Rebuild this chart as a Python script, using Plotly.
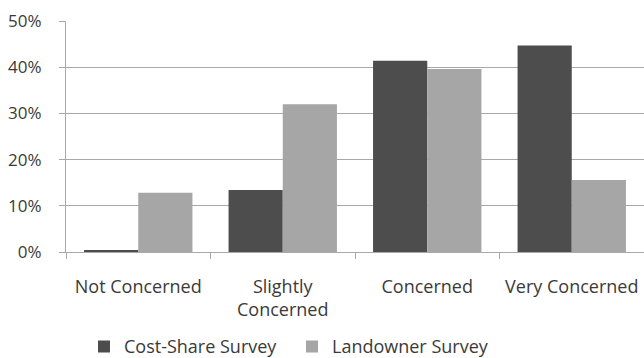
import plotly.graph_objects as go

categories = ["Not Concerned", "Slightly<br>Concerned", "Concerned", "Very Concerned"]
cost_share = [0.4, 13.4, 41.4, 44.7]
landowner = [12.8, 32.0, 39.6, 15.6]
y_ticks = [0, 10, 20, 30, 40, 50]
y_tick_labels = ["0%", "10%", "20%", "30%", "40%", "50%"]

font_family = "'Open Sans', sans-serif"
text_color = "#3a3a3a"
grid_color = "#a8a8a8"

fig = go.Figure()
fig.add_trace(go.Bar(name="Cost-Share Survey", x=categories, y=cost_share,
                     marker=dict(color="#4d4d4d", line=dict(width=0))))
fig.add_trace(go.Bar(name="Landowner Survey", x=categories, y=landowner,
                     marker=dict(color="#a6a6a6", line=dict(width=0))))

fig.update_layout(
    width=644, height=358,
    margin=dict(l=66, r=0, t=21, b=106, autoexpand=False),
    paper_bgcolor="white", plot_bgcolor="white",
    barmode="group", bargap=0.25, bargroupgap=0,
    font=dict(family=font_family, size=17, color=text_color),
    showlegend=True,
    legend=dict(orientation="h", x=0.391, xanchor="center", y=-0.41, yanchor="middle",
                entrywidth=163, entrywidthmode="pixels",
                font=dict(size=18, color=text_color), traceorder="normal"),
    xaxis=dict(showline=True, linecolor=grid_color, linewidth=1,
               ticks="outside", tickcolor=grid_color, ticklen=6,
               tickson="boundaries", showgrid=False, zeroline=False,
               automargin=False, ticklabelstandoff=18,
               tickfont=dict(size=18, color=text_color)),
    yaxis=dict(range=[0, 50], tickvals=y_ticks, ticktext=y_tick_labels,
               showline=True, linecolor=grid_color, linewidth=1,
               ticks="outside", tickcolor=grid_color, ticklen=6,
               showgrid=True, gridcolor=grid_color, gridwidth=1,
               zeroline=False, automargin=False, ticklabelstandoff=14,
               tickfont=dict(size=17, color=text_color)),
)

fig.write_html("out.html")
